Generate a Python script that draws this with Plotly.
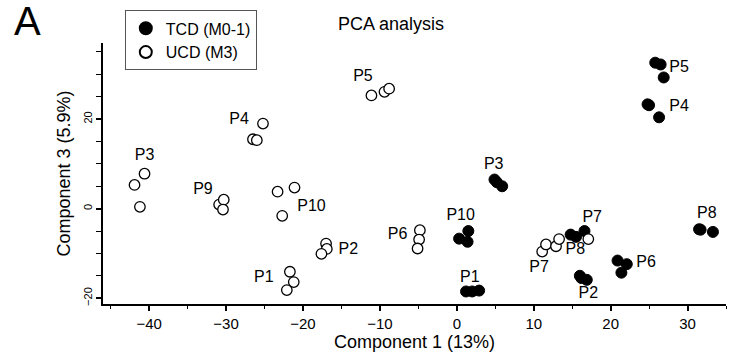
import plotly.graph_objects as go

# TCD (M0-1) filled points
tcd_x = [25.8, 26.5, 26.9, 24.8, 25.0, 26.3, 4.9, 5.2, 5.9, 0.3, 1.5, 1.4,
         1.2, 2.0, 2.9, 14.8, 15.5, 16.6, 16.0, 16.2, 16.9, 20.9, 22.1, 21.4,
         31.5, 31.7, 33.3]
tcd_y = [32.6, 32.2, 29.3, 23.3, 23.1, 20.4, 6.5, 5.9, 5.0, -6.7, -5.0, -7.4,
         -18.5, -18.5, -18.3, -5.8, -6.3, -5.0, -15.0, -15.5, -15.9, -11.6, -12.4, -14.3,
         -4.6, -4.7, -5.2]

# UCD (M3) open points
ucd_x = [-41.9, -40.6, -41.2, -30.9, -30.3, -30.4, -26.5, -26.0, -25.2,
         -23.3, -21.1, -22.7, -17.0, -16.9, -17.6, -21.7, -21.2, -22.1,
         -4.8, -4.9, -5.1, -11.1, -9.4, -8.8, 11.1, 11.6, 12.9, 13.3, 17.1]
ucd_y = [5.3, 7.8, 0.4, 0.9, 2.0, -0.2, 15.5, 15.3, 19.0,
         3.8, 4.7, -1.6, -7.8, -9.0, -10.1, -14.1, -16.4, -18.2,
         -4.8, -6.9, -8.9, 25.3, 26.1, 26.8, -9.6, -8.0, -8.4, -6.8, -6.8]

# Group labels (text, x, y in data units)
label_text = ["P3", "P9", "P4", "P10", "P2", "P1", "P6", "P5", "P7", "P8",
              "P3", "P10", "P1", "P7", "P2", "P6", "P8", "P5", "P4"]
label_x = [-40.6, -33.0, -28.3, -18.9, -14.1, -25.1, -7.7, -12.2, 10.7, 15.4,
           4.8, 0.5, 1.7, 17.6, 17.1, 24.6, 32.5, 28.9, 28.9]
label_y = [11.8, 4.1, 19.8, 0.4, -9.3, -15.6, -5.8, 29.5, -13.3, -9.3,
           9.8, -1.6, -15.4, -2.2, -19.1, -12.2, -1.1, 31.5, 22.6]

FONT = "Liberation Sans, Arial, sans-serif"

fig = go.Figure()
fig.add_trace(go.Scatter(
    x=tcd_x, y=tcd_y, mode="markers", name="TCD (M0-1)",
    marker=dict(size=11, color="black", line=dict(color="black", width=1)),
))
fig.add_trace(go.Scatter(
    x=ucd_x, y=ucd_y, mode="markers", name="UCD (M3)",
    marker=dict(size=10.5, color="white", line=dict(color="black", width=1.3)),
))
fig.add_trace(go.Scatter(
    x=label_x, y=label_y, mode="text", text=label_text, showlegend=False,
    textfont=dict(family=FONT, size=16, color="black"), hoverinfo="skip",
))

fig.update_layout(
    width=733, height=354,
    margin=dict(l=103, r=7, t=43, b=48),
    plot_bgcolor="white", paper_bgcolor="white",
    font=dict(family=FONT, color="black"),
    showlegend=True,
    legend=dict(
        x=0.035, y=1.125, xanchor="left", yanchor="top",
        bordercolor="#555555", borderwidth=1, bgcolor="white",
        font=dict(family=FONT, size=16, color="black"),
        itemsizing="constant", tracegroupgap=0, itemwidth=30,
    ),
    annotations=[
        dict(text="PCA analysis", x=391, y=24, showarrow=False, font=dict(size=18)),
        dict(text="A", x=27, y=21, showarrow=False, font=dict(size=40)),
    ],
)
# convert pixel positions to paper coords for annotations
pw, ph = 733 - 103 - 7, 354 - 43 - 48
for a in fig.layout.annotations:
    px, py = a.x, a.y
    a.x = (px - 103) / pw
    a.y = (354 - 48 - py) / ph
    a.xref = "paper"; a.yref = "paper"
    a.xanchor = "center"; a.yanchor = "middle"

fig.update_xaxes(
    range=[-46, 35], showgrid=False, zeroline=False,
    showline=True, linecolor="black", linewidth=2,
    ticks="outside", ticklen=5, tickwidth=1.5, tickcolor="black",
    dtick=10, tick0=0, tickfont=dict(size=15),
    minor=dict(dtick=5, tick0=0, ticks="outside", ticklen=3, tickcolor="black", tickwidth=1),
    title=dict(text="Component 1 (13%)", font=dict(size=18), standoff=2),
)
fig.update_yaxes(
    range=[-21.3, 37], showgrid=False, zeroline=False,
    showline=True, linecolor="black", linewidth=2,
    ticks="outside", ticklen=5, tickwidth=1.5, tickcolor="black",
    dtick=20, tick0=0, tickfont=dict(size=11), tickangle=-90,
    minor=dict(dtick=5, tick0=0, ticks="outside", ticklen=5, tickcolor="black", tickwidth=1),
    title=dict(text="Component 3 (5.9%)", font=dict(size=18), standoff=6),
)

fig.write_html("out.html")
